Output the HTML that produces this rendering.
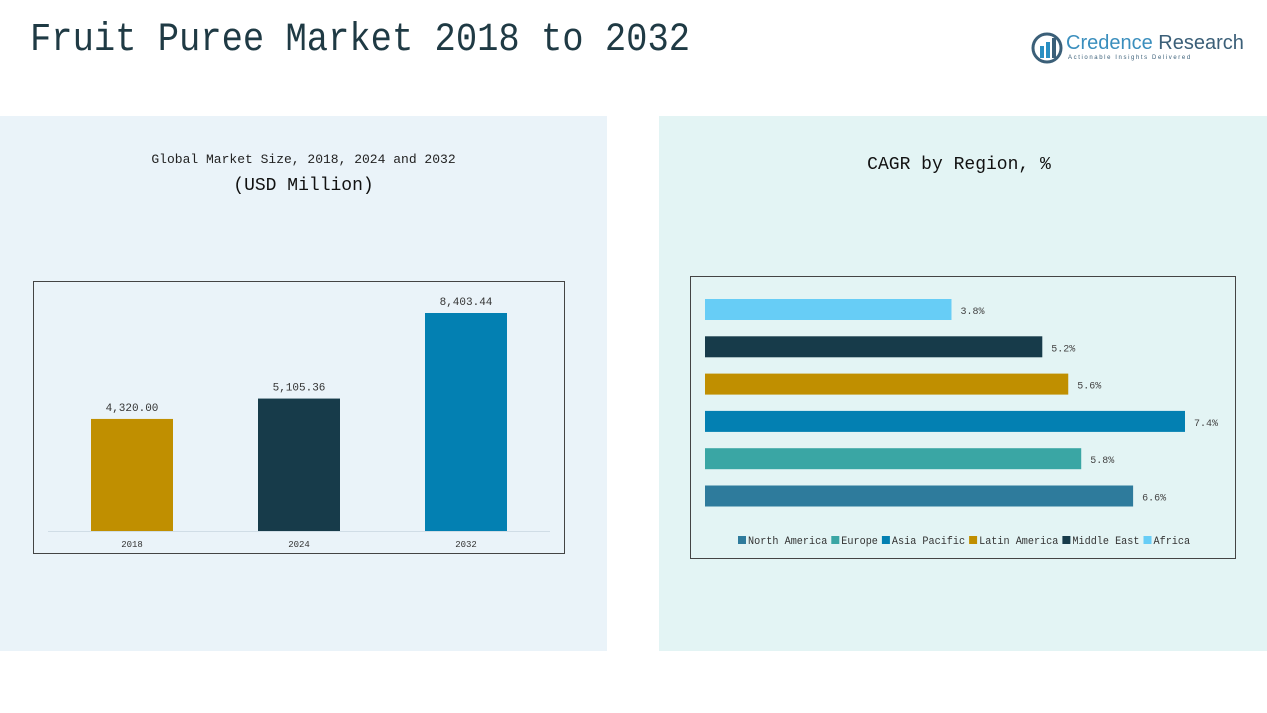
<!DOCTYPE html>
<html><head><meta charset="utf-8"><style>
body{margin:0;width:1267px;height:713px;background:#fff;position:relative;overflow:hidden;font-family:"Liberation Mono","Noto Sans CJK SC",monospace;}
.abs{position:absolute}
</style></head><body>
<div class="abs" style="left:0;top:116px;width:607px;height:535px;background:#eaf3f9"></div>
<div class="abs" style="left:659px;top:116px;width:608px;height:535px;background:#e3f4f4"></div>
<div class="abs" style="left:30px;top:18px;font-size:40px;color:#1f3a44;font-family:'Liberation Mono',monospace;transform:scaleX(0.887);transform-origin:left;white-space:nowrap">Fruit Puree Market 2018 to 2032</div>
<div class="abs" style="left:1031px;top:32px;width:205px;height:34px">
<svg width="32" height="32" style="position:absolute;left:0;top:0"><circle cx="16" cy="16" r="14" fill="none" stroke="#3b5f78" stroke-width="3"/><rect x="9" y="14" width="4" height="12" fill="#2a8fc2"/><rect x="15" y="10" width="4" height="16" fill="#2a8fc2"/><rect x="21" y="6" width="4" height="20" fill="#3b5f78"/></svg>
<div class="abs" style="left:35px;top:0;font-family:'Liberation Sans',sans-serif;font-size:20px;color:#3a8ebd;white-space:nowrap">Credence <span style="color:#3b5f78">Research</span></div>
<div class="abs" style="left:37px;top:23px;font-family:'Liberation Sans',sans-serif;font-size:6px;letter-spacing:1.6px;color:#3b5f78;white-space:nowrap">Actionable Insights Delivered</div>
</div>
<div class="abs" style="left:0;width:607px;top:152px;text-align:center;font-size:13px;color:#222">Global Market Size, 2018, 2024 and 2032</div>
<div class="abs" style="left:0;width:607px;top:176px;text-align:center;font-size:18px;color:#111">(USD Million)</div>
<div class="abs" style="left:659px;width:600px;top:155px;text-align:center;font-size:18px;color:#111">CAGR by Region, %</div>
<svg class="abs" style="left:0;top:0" width="1267" height="713" id="svg"></svg>
<script>
const years=["2018","2024","2032"];
const sizes=[4320.00,5105.36,8403.44];
const sizeLabels=["4,320.00","5,105.36","8,403.44"];
const regions=["Africa","Middle East","Latin America","Asia Pacific","Europe","North America"];
const cagr=[3.8,5.2,5.6,7.4,5.8,6.6];
const legendOrder=["North America","Europe","Asia Pacific","Latin America","Middle East","Africa"];
const colorsBar=["#c08f00","#173b4a","#0380b2"];
const regionColors={"North America":"#2e7b9c","Europe":"#3aa6a4","Asia Pacific":"#0380b2","Latin America":"#c08f00","Middle East":"#173b4a","Africa":"#67cdf6"};
const svg=document.getElementById('svg');const NS="http://www.w3.org/2000/svg";
function mk(t,a,txt){const e=document.createElementNS(NS,t);for(const k in a)e.setAttribute(k,a[k]);if(txt!==undefined)e.textContent=txt;svg.appendChild(e);return e;}
let e=mk('rect',{x:33.5,y:281.5,width:531,height:272,fill:'none',stroke:'#444','stroke-width':1});

e=mk('line',{x1:48,x2:550,y1:531.5,y2:531.5,stroke:'#d0dde6'});

const base=531,yS=v=>base-v*(218/8403.44);
years.forEach((y,i)=>{const cx=132+i*167;
let r=mk('rect',{x:cx-41,y:yS(sizes[i]),width:82,height:base-yS(sizes[i]),fill:colorsBar[i]});

let t=mk('text',{x:cx,y:yS(sizes[i])-8,'text-anchor':'middle','font-size':11,fill:'#333','font-family':'Liberation Mono, monospace'},sizeLabels[i]);

t=mk('text',{x:cx,y:547,'text-anchor':'middle','font-size':9,fill:'#333','font-family':'Liberation Mono, monospace'},y);
});
e=mk('rect',{x:690.5,y:276.5,width:545,height:282,fill:'none',stroke:'#444','stroke-width':1});

const x0=705,xS=v=>x0+v*(480/7.4);
regions.forEach((r,i)=>{const y=299+i*37.3;
let b=mk('rect',{x:x0,y:y,width:xS(cagr[i])-x0,height:21,fill:regionColors[r]});

let t=mk('text',{x:xS(cagr[i])+9,y:y+15,'font-size':10,fill:'#444','font-family':'Liberation Mono, monospace'},cagr[i].toFixed(1)+'%');
});
let lx=738;
legendOrder.forEach(r=>{let s=mk('rect',{x:lx,y:536,width:8,height:8,fill:regionColors[r]});

let t=mk('text',{x:lx+10,y:544,'font-size':11,fill:'#333','font-family':'Liberation Mono, monospace','textLength':r.length*6.1,'lengthAdjust':'spacingAndGlyphs'},r);

lx+=10+r.length*6.1+4;});
</script>
</body></html>
